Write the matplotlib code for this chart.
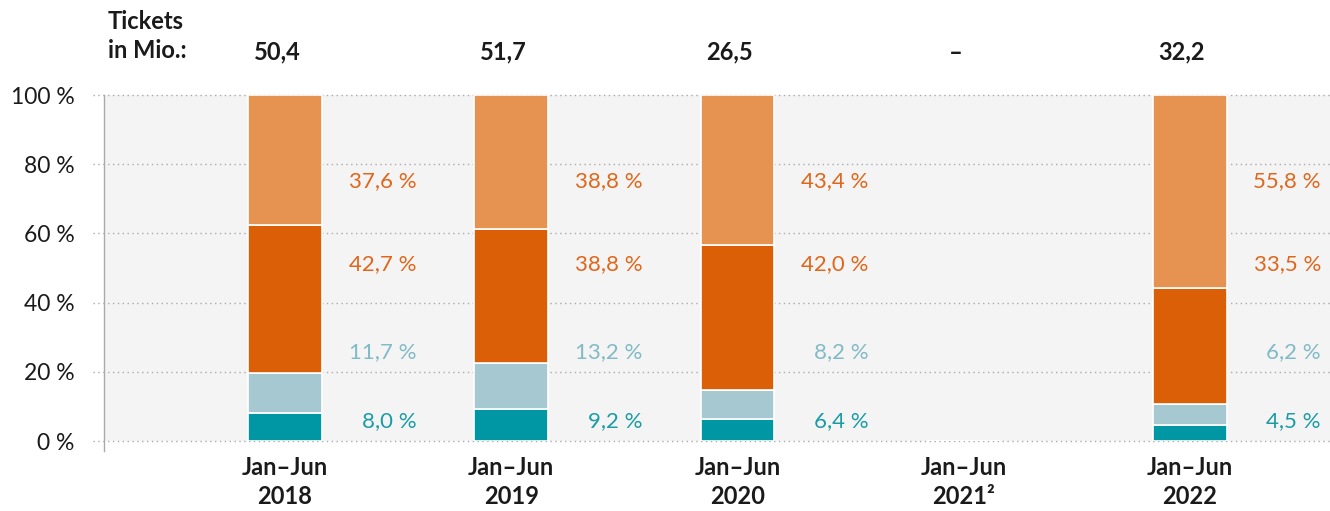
import matplotlib
matplotlib.use("Agg")
import matplotlib.pyplot as plt
import matplotlib.transforms as mtransforms
import numpy as np

plt.rcParams['font.family'] = ['Lato', 'DejaVu Sans']

periods = ["Jan\u2013Jun\n2018", "Jan\u2013Jun\n2019", "Jan\u2013Jun\n2020",
           "Jan\u2013Jun\n2021\u00b2", "Jan\u2013Jun\n2022"]
tickets = ["50,4", "51,7", "26,5", "\u2013", "32,2"]
# segments bottom -> top (percent); 2021 has no data
seg_teal = [8.0, 9.2, 6.4, np.nan, 4.5]
seg_lightblue = [11.7, 13.2, 8.2, np.nan, 6.2]
seg_darkorange = [42.7, 38.8, 42.0, np.nan, 33.5]
seg_lightorange = [37.6, 38.8, 43.4, np.nan, 55.8]
series = [seg_teal, seg_lightblue, seg_darkorange, seg_lightorange]

bar_colors = ["#0097a4", "#a6c9d1", "#db5f06", "#e69351"]
label_colors = ["#1a9ca6", "#82bac6", "#e0661a", "#e0661a"]
label_y = [5.8, 25.7, 51.0, 75.2]

fig = plt.figure(figsize=(13.3, 5.11), dpi=100)
ax = fig.add_axes([104 / 1330, 1 - 441 / 511, 1 - 104 / 1330, 346 / 511])
ax.set_facecolor("#f4f4f4")

x = np.arange(len(periods))
bottom = np.zeros(len(periods))
for vals, col in zip(series, bar_colors):
    v = np.nan_to_num(np.array(vals, dtype=float))
    ax.bar(x, v, bottom=bottom, width=0.325, color=col, edgecolor="white",
           linewidth=1.2, zorder=3)
    bottom += v

for i in range(len(periods)):
    for vals, col, ly in zip(series, label_colors, label_y):
        if np.isnan(vals[i]):
            continue
        ax.text(x[i] + 0.58, ly, f"{vals[i]:.1f}".replace(".", ",") + " %",
                ha="right", va="center", color=col, fontsize=16, zorder=4)

ax.set_xlim(-0.80, 4.62)
ax.set_ylim(0, 100)

# dotted gridlines extending slightly left of the axis
trans = mtransforms.blended_transform_factory(ax.transAxes, ax.transData)
for yv in range(0, 101, 20):
    ax.plot([-0.009, 1], [yv, yv], transform=trans, color="#aaaaaa",
            linestyle=(0, (1, 2.5)), linewidth=1, clip_on=False, zorder=1)

for s in ["top", "right", "bottom"]:
    ax.spines[s].set_visible(False)
ax.spines["left"].set_color("#aaaaaa")
ax.spines["left"].set_linewidth(1)
ax.spines["left"].set_bounds(-3, 100)

ax.set_yticks(range(0, 101, 20))
ax.set_yticklabels([f"{v} %" for v in range(0, 101, 20)], fontsize=16.5, color="#1a1a1a")
ax.tick_params(axis="y", length=0, pad=21)
ax.set_xticks(x)
ax.set_xticklabels(periods, fontsize=17, fontweight="bold", color="#1a1a1a",
                   linespacing=1.3)
ax.tick_params(axis="x", length=0, pad=11)

# top row: tickets
trans_top = mtransforms.blended_transform_factory(ax.transData, fig.transFigure)
for xi, t in zip(x, tickets):
    ax.text(xi - 0.035, 1 - 52 / 511, t, transform=trans_top, ha="center", va="center",
            fontsize=17, fontweight="bold", color="#1a1a1a")
fig.text(108 / 1330, 1 - 36 / 511, "Tickets\nin Mio.:", ha="left", va="center",
         fontsize=17, fontweight="bold", color="#1a1a1a", linespacing=1.3)

fig.savefig("out.png", dpi=100)
